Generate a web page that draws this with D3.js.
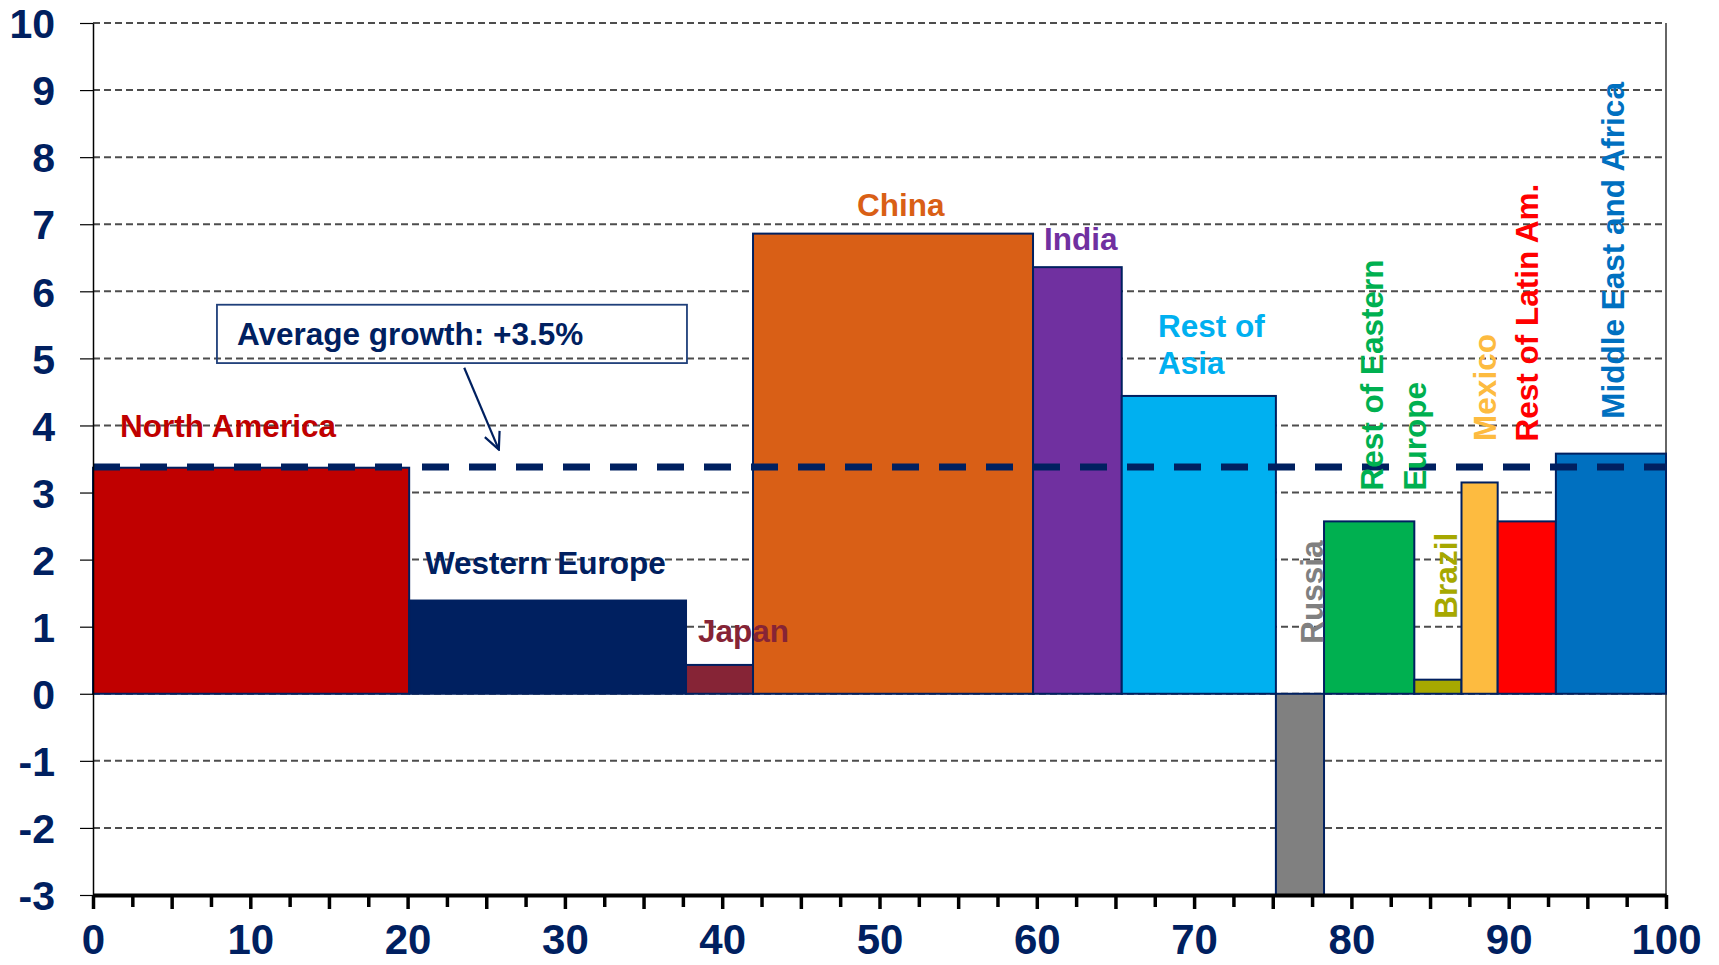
<!DOCTYPE html>
<html>
<head>
<meta charset="utf-8">
<script src="https://cdn.jsdelivr.net/npm/d3@7"></script>
<style>
  body { margin: 0; background: #fff; }
  svg { display: block; font-family: "Liberation Sans", Arial, sans-serif; font-weight: bold; }
</style>
</head>
<body>
<svg id="chart" width="1719" height="965"></svg>
<script>
// data: share of world GDP (bar width) and growth (bar height)
const regions = ["North America", "Western Europe", "Japan", "China", "India", "Rest of Asia",
  "Russia", "Rest of Eastern Europe", "Brazil", "Mexico", "Rest of Latin Am.", "Middle East and Africa"];
const gdpShare = [20.1, 17.6, 4.26, 17.8, 5.64, 9.8, 3.06, 5.74, 3.0, 2.3, 3.7, 7.0];
const growth = [3.37, 1.39, 0.43, 6.86, 6.36, 4.44, -3.0, 2.57, 0.21, 3.15, 2.57, 3.58];
const averageGrowth = 3.38;
const averageText = "Average growth: +3.5%";
const yTicks = d3.range(-3, 11);
const xLabelTicks = d3.range(0, 101, 10);

// styling
const colors = ["#C00000", "#002060", "#862436", "#D95F16", "#7030A0", "#00B0F0",
  "#808080", "#00B050", "#A6A800", "#FDBB40", "#FF0000", "#0070C0"];
const navy = "#002060";

// label layout in data units: [x, y, rotated, lines, line gap px]
const labelLayout = [
  [1.72, 3.83, false, ["North America"], 0],
  [21.1, 1.79, false, ["Western Europe"], 0],
  [38.46, 0.775, false, ["Japan"], 0],
  [48.57, 7.12, false, ["China"], 0],
  [60.46, 6.62, false, ["India"], 0],
  [67.7, 5.32, false, ["Rest of", "Asia"], 37],
  [78.2, 0.745, true, ["Russia"], 0],
  [82.0, 3.03, true, ["Rest of Eastern", "Europe"], 43],
  [86.7, 1.12, true, ["Brazil"], 0],
  [89.2, 3.77, true, ["Mexico"], 0],
  [91.86, 3.76, true, ["Rest of Latin Am."], 0],
  [97.33, 4.1, true, ["Middle East and Africa"], 0]
];

const svg = d3.select("#chart");
const x = d3.scaleLinear().domain([0, 100]).range([93, 1666]);
const y = d3.scaleLinear().domain([-3, 10]).range([895, 23]);

// gridlines
svg.append("g")
  .selectAll("line")
  .data(yTicks.filter((d) => d > -3))
  .join("line")
  .attr("x1", x(0)).attr("x2", x(100))
  .attr("y1", (d) => y(d)).attr("y2", (d) => y(d))
  .attr("stroke", "#4d4d4d")
  .attr("stroke-width", 2)
  .attr("stroke-dasharray", "7,4");

// right border
svg.append("line")
  .attr("x1", x(100)).attr("x2", x(100))
  .attr("y1", y(10)).attr("y2", y(-3))
  .attr("stroke", "#333").attr("stroke-width", 1.5);

// bars
let start = 0;
const bars = regions.map((r, i) => {
  const x0 = start;
  start += gdpShare[i];
  return { region: r, x0: x0, x1: start, value: growth[i], color: colors[i] };
});

svg.append("g")
  .selectAll("rect")
  .data(bars)
  .join("rect")
  .attr("x", (d) => x(d.x0))
  .attr("width", (d) => x(d.x1) - x(d.x0))
  .attr("y", (d) => y(Math.max(0, d.value)))
  .attr("height", (d) => Math.abs(y(d.value) - y(0)))
  .attr("fill", (d) => d.color)
  .attr("stroke", navy)
  .attr("stroke-width", 2);

// average line
svg.append("line")
  .attr("x1", x(0)).attr("x2", x(100))
  .attr("y1", y(averageGrowth)).attr("y2", y(averageGrowth))
  .attr("stroke", navy)
  .attr("stroke-width", 7)
  .attr("stroke-dasharray", "27,20");

// y axis
const yAxis = svg.append("g")
  .attr("transform", `translate(${x(0)},0)`)
  .call(d3.axisLeft(y).tickValues(yTicks).tickSize(13).tickSizeOuter(0).tickPadding(25)
    .tickFormat((d) => String(d)));
yAxis.select(".domain").attr("stroke", "#000").attr("stroke-width", 1.5);
yAxis.selectAll(".tick line").attr("stroke", "#000").attr("stroke-width", 1.2);
yAxis.selectAll(".tick text")
  .attr("dy", "0.36em")
  .attr("fill", navy)
  .style("font-size", "41px")
  .style("font-family", "'Liberation Sans', Arial, sans-serif")
  .style("font-weight", "bold");

// x axis: minor ticks every 2.5, major every 5, labels every 10
const xMinor = svg.append("g")
  .attr("transform", `translate(0,${y(-3)})`)
  .call(d3.axisBottom(x).tickValues(d3.range(2.5, 100, 5)).tickSize(12).tickSizeOuter(0).tickFormat(""));
xMinor.select(".domain").remove();
xMinor.selectAll(".tick line").attr("stroke", "#000").attr("stroke-width", 3.5);

const xAxis = svg.append("g")
  .attr("transform", `translate(0,${y(-3)})`)
  .call(d3.axisBottom(x).tickValues(d3.range(0, 101, 5)).tickSize(14).tickSizeOuter(0)
    .tickFormat((d) => (xLabelTicks.includes(d) ? String(d) : "")));
xAxis.select(".domain").attr("stroke", "#000").attr("stroke-width", 4);
xAxis.selectAll(".tick line").attr("stroke", "#000").attr("stroke-width", 3.5);
xAxis.selectAll(".tick text")
  .attr("y", 59)
  .attr("dy", 0)
  .attr("fill", navy)
  .style("font-size", "42px")
  .style("font-family", "'Liberation Sans', Arial, sans-serif")
  .style("font-weight", "bold");

// annotation box + arrow
svg.append("rect")
  .attr("x", x(7.88)).attr("y", y(5.8))
  .attr("width", x(37.76) - x(7.88))
  .attr("height", y(4.93) - y(5.8))
  .attr("fill", "none")
  .attr("stroke", "#1F3F7A")
  .attr("stroke-width", 1.8);

svg.append("text")
  .attr("x", x(9.15)).attr("y", y(5.2))
  .attr("fill", navy)
  .style("font-size", "31.5px")
  .text(averageText);

svg.append("defs").append("marker")
  .attr("id", "arrow")
  .attr("viewBox", "0 0 20 20")
  .attr("refX", 18).attr("refY", 10)
  .attr("markerWidth", 20).attr("markerHeight", 20)
  .attr("markerUnits", "userSpaceOnUse")
  .attr("orient", "auto")
  .append("path")
  .attr("d", "M1,2 L18,10 L1,18")
  .attr("fill", "none")
  .attr("stroke", navy)
  .attr("stroke-width", 2.2);

svg.append("line")
  .attr("x1", x(23.6)).attr("y1", y(4.86))
  .attr("x2", x(25.8)).attr("y2", y(3.64))
  .attr("stroke", navy)
  .attr("stroke-width", 2.2)
  .attr("marker-end", "url(#arrow)");

// region labels
const labels = svg.append("g").style("font-size", "31.5px");
labelLayout.forEach(([lx, ly, rotated, lines, gap], i) => {
  lines.forEach((line, j) => {
    const px = x(lx) + (rotated ? j * gap : 0);
    const py = y(ly) + (rotated ? 0 : j * gap);
    labels.append("text")
      .attr("transform", rotated ? `translate(${px},${py}) rotate(-90)` : `translate(${px},${py})`)
      .attr("fill", colors[i])
      .text(line);
  });
});
</script>
</body>
</html>
